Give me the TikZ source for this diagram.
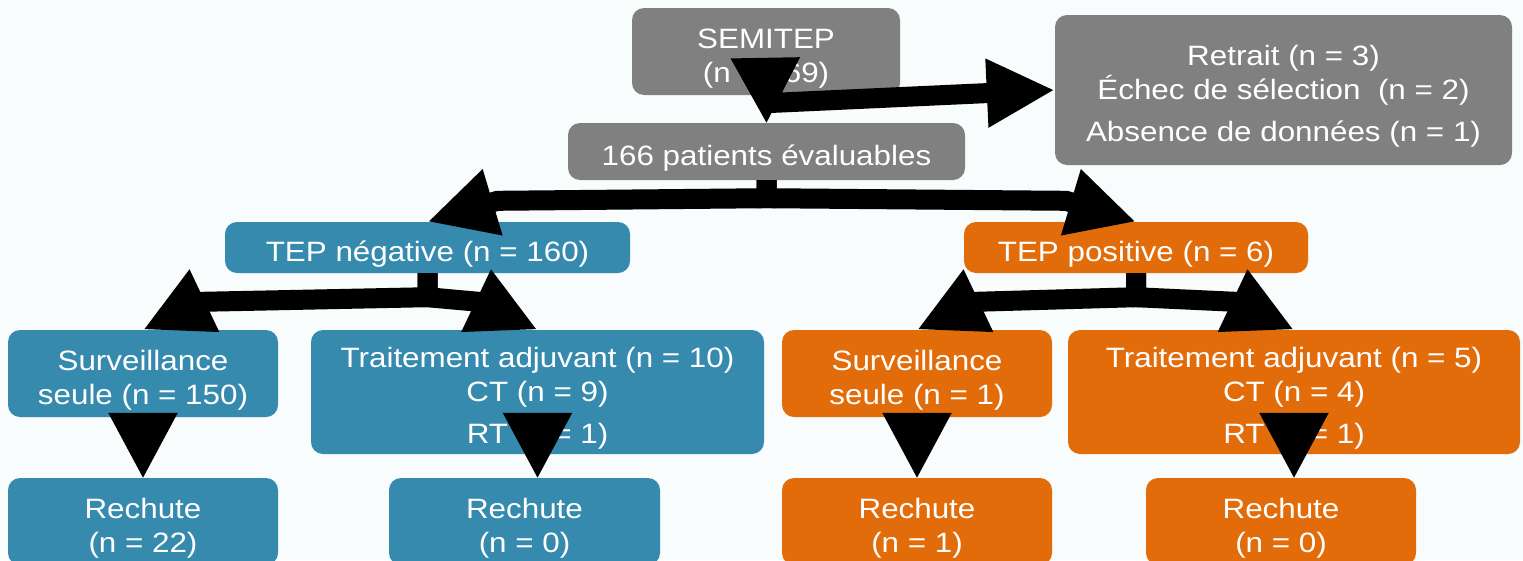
\documentclass[tikz,border=0pt]{standalone}
\usepackage{fontspec}
\setmainfont{Liberation Sans}[FakeStretch=1.12]
\usetikzlibrary{positioning,arrows.meta,calc}
\definecolor{boxgray}{RGB}{128,128,128}
\definecolor{petblue}{RGB}{54,138,174}
\definecolor{petorange}{RGB}{227,108,10}
\definecolor{bgwash}{RGB}{248,252,253}
\newcommand{\bumpstrut}{\rule{0pt}{33pt}}

\begin{document}
\begin{tikzpicture}[x=1pt, y=-1pt,
  every node/.style={font=\fontsize{28}{34}\selectfont, text=white},
  gbox/.style={
    fill=boxgray, rounded corners=12pt, align=center,
    inner sep=0pt
  },
  bbox/.style={gbox, fill=petblue},
  obox/.style={gbox, fill=petorange},
  arr/.style={-{Triangle[length=68pt,width=64pt]}, line width=20pt},
  drop/.style={-{Triangle[length=65pt,width=68pt]}, line width=6pt}
]

\useasboundingbox (0,0) rectangle (1523,560);
\clip (0,0) rectangle (1523,560);
\fill[bgwash] (0,0) rectangle (1523,560);

\node[gbox, minimum width=268pt, minimum height=87pt] (sem) at (766,51.5)
  {\bumpstrut SEMITEP\\(n = 169)};
\node[gbox, minimum width=457pt, minimum height=150pt] (ret) at (1283.5,90)
  {\bumpstrut Retrait (n = 3)\\\'Echec de s\'election\ \ (n = 2)\\[8pt]Absence de donn\'ees (n = 1)};
\node[gbox, minimum width=397pt, minimum height=57pt] (p166) at (766.5,151.5)
  {\bumpstrut 166 patients \'evaluables};

\node[bbox, minimum width=405pt, minimum height=51pt] (neg) at (427.5,247.5)
  {\bumpstrut TEP n\'egative (n = 160)};
\node[obox, minimum width=344pt, minimum height=51pt] (pos) at (1136,247.5)
  {\bumpstrut TEP positive (n = 6)};

\node[bbox, minimum width=270pt, minimum height=87pt] (surv150) at (143,373.5)
  {\bumpstrut Surveillance\\seule (n = 150)};
\node[bbox, minimum width=453pt, minimum height=124pt] (trt10) at (537.5,392)
  {\bumpstrut Traitement adjuvant (n = 10)\\CT (n = 9)\\[8pt]RT (n = 1)};
\node[obox, minimum width=270pt, minimum height=87pt] (surv1) at (917,373.5)
  {\bumpstrut Surveillance\\seule (n = 1)};
\node[obox, minimum width=452pt, minimum height=124pt] (trt5) at (1294,392)
  {\bumpstrut Traitement adjuvant (n = 5)\\CT (n = 4)\\[8pt]RT (n = 1)};

\node[bbox, minimum width=270pt, minimum height=87pt] (rech22) at (143,521.5)
  {\bumpstrut Rechute\\(n = 22)};
\node[bbox, minimum width=271pt, minimum height=87pt] (rech0b) at (524.5,521.5)
  {\bumpstrut Rechute\\(n = 0)};
\node[obox, minimum width=270pt, minimum height=87pt] (rech1) at (917,521.5)
  {\bumpstrut Rechute\\(n = 1)};
\node[obox, minimum width=270pt, minimum height=87pt] (rech0o) at (1281,521.5)
  {\bumpstrut Rechute\\(n = 0)};

%% SEMITEP : vers 166 et vers les retraits
\draw[drop] (sem.south) -- (p166.north);
\draw[arr] ($(sem.south)+(0,8)$) -- (ret.west);

%% 166 vers TEP negative / positive
\coordinate (j1) at ($(p166.south)+(0,18)$);
\draw[arr] (p166.south) -- (j1) -- ($(neg.north)+(70,-21)$) -- (neg.north);
\draw[arr] (p166.south) -- (j1) -- ($(pos.north)+(-70,-21)$) -- (pos.north);

%% TEP negative vers surveillance / traitement
\coordinate (j2) at ($(neg.south)+(0,24)$);
\draw[arr] (neg.south) -- (j2) -- ($(surv150.north)+(59,-28)$) -- (surv150.north);
\draw[arr] (neg.south) -- (j2) -- ($(trt10.north)+(-59,-28)$) -- (trt10.north);

%% TEP positive vers surveillance / traitement
\coordinate (j3) at ($(pos.south)+(0,24)$);
\draw[arr] (pos.south) -- (j3) -- ($(surv1.north)+(59,-28)$) -- (surv1.north);
\draw[arr] (pos.south) -- (j3) -- ($(trt5.north)+(-59,-28)$) -- (trt5.north);

%% Rechutes
\draw[drop] (surv150.south) -- (rech22.north);
\draw[drop] (trt10.south) -- (trt10.south |- rech0b.north);
\draw[drop] (surv1.south) -- (rech1.north);
\draw[drop] (trt5.south) -- (trt5.south |- rech0o.north);

\end{tikzpicture}
\end{document}
